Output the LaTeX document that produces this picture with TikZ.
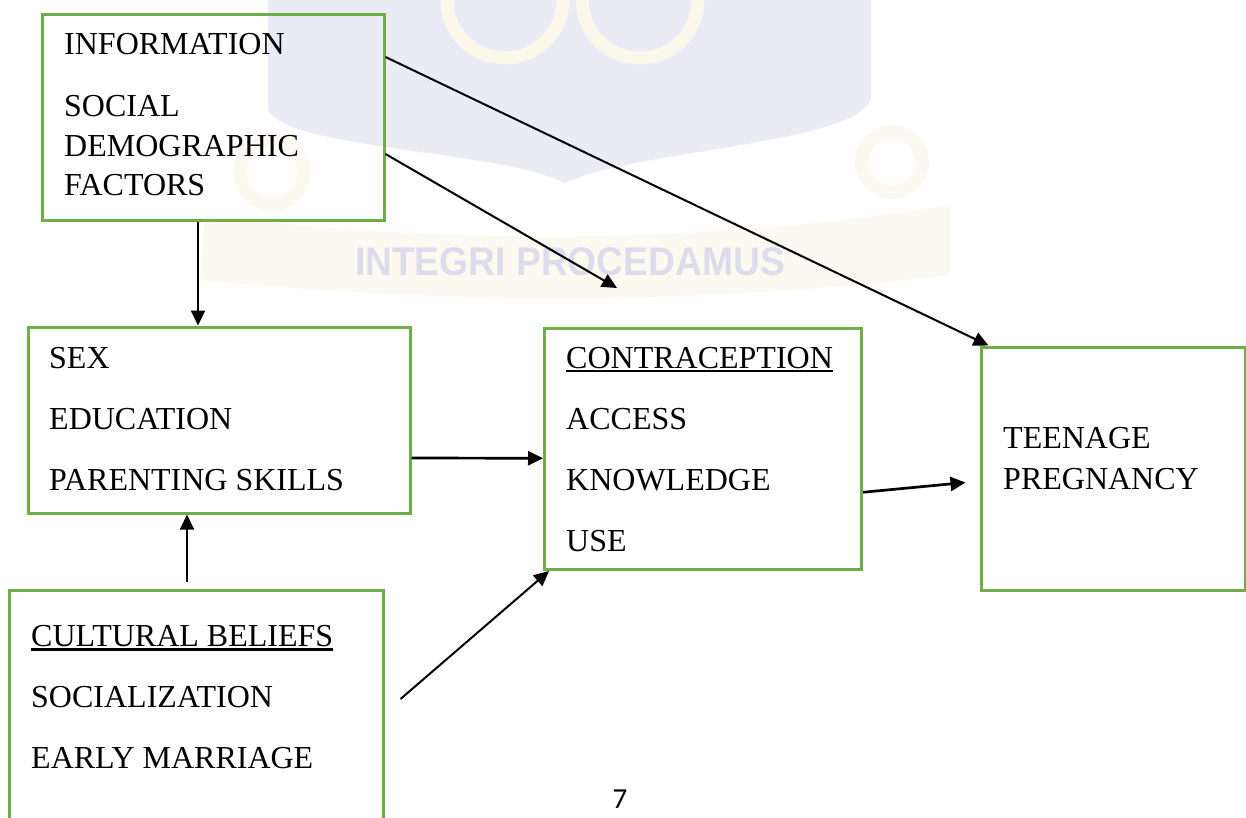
\documentclass[tikz,border=0pt]{standalone}
\usepackage{fontspec}
\setmainfont{Liberation Serif}
\newfontfamily\pagefont{Carlito}
\newfontfamily\crestfont{Liberation Sans}
\usetikzlibrary{arrows.meta}
\definecolor{boxgreen}{RGB}{112,173,71}
\definecolor{crestblue}{RGB}{235,235,245}
\definecolor{crestgold}{RGB}{252,250,240}
\definecolor{crestring}{RGB}{251,248,233}
\definecolor{cresttext}{RGB}{220,220,237}

\begin{document}
\begin{tikzpicture}[x=1pt, y=-1pt,
    box/.style = {draw=boxgreen, line width=3pt},
    item/.style = {anchor=base west, inner sep=0pt, font=\fontsize{32}{38}\selectfont},
    arr/.style = {-{Triangle[length=15pt, width=14pt]}, line width=2pt}]
  \useasboundingbox (0,0) rectangle (1246,817);

  % faint crest in the background
  \fill[crestgold] (205,215) .. controls (450,245) and (700,245) .. (950,205)
    -- (950,275) .. controls (700,305) and (450,305) .. (200,280) -- cycle;
  \draw[crestgold, line width=14pt] (272,172) circle[radius=32];
  \draw[crestgold, line width=14pt] (892,162) circle[radius=30];
  \fill[crestblue] (268,0) -- (268,110) .. controls (290,150) and (500,150) .. (565,183)
    .. controls (632,150) and (850,145) .. (871,100) -- (871,0) -- cycle;
  \draw[crestring, line width=13pt] (505,0) circle[radius=58];
  \draw[crestring, line width=13pt] (640,0) circle[radius=58];
  \node[text=cresttext, font=\crestfont\bfseries\fontsize{40}{40}\selectfont, xscale=0.93,
    inner sep=0pt] (motto) at (570,262) {INTEGRI PROCEDAMUS};

  % boxes
  \node[box, minimum width=342, minimum height=206] (info) at (213,117) {};
  \node[box, minimum width=382, minimum height=186] (sex) at (219,420) {};
  \node[box, minimum width=317, minimum height=241.5] (contra) at (703,448.75) {};
  \node[box, minimum width=264, minimum height=243] (teen) at (1113,468.5) {};
  \node[box, minimum width=374, minimum height=250] (culture) at (196,715) {};

  \node[item] (i1) at (64,54) {INFORMATION};
  \node[item] (i2) at (64,116) {SOCIAL};
  \node[item] (i3) at (64,156) {DEMOGRAPHIC};
  \node[item] (i4) at (64,195) {FACTORS};

  \node[item] (s1) at (49,368) {SEX};
  \node[item] (s2) at (49,429) {EDUCATION};
  \node[item] (s3) at (49,490) {PARENTING SKILLS};

  \node[item] (c1) at (566,368) {CONTRACEPTION};
  \node[item] (c2) at (566,429) {ACCESS};
  \node[item] (c3) at (566,490) {KNOWLEDGE};
  \node[item] (c4) at (566,551) {USE};

  \node[item] (t1) at (1003,448) {TEENAGE};
  \node[item] (t2) at (1003,489) {PREGNANCY};

  \node[item] (b1) at (31,646) {CULTURAL BELIEFS};
  \node[item] (b2) at (31,707) {SOCIALIZATION};
  \node[item] (b3) at (31,768) {EARLY MARRIAGE};

  \draw[line width=2.6pt] ([yshift=-3pt]c1.base west) -- ([yshift=-3pt]c1.base east);
  \draw[line width=2.6pt] ([yshift=-3.5pt]b1.base west) -- ([yshift=-3.5pt]b1.base east);

  \node[anchor=base, inner sep=0pt, font=\pagefont\fontsize{29}{30}\selectfont] (pg) at (620,808) {7};

  % arrows
  \coordinate (loose) at (617,288);
  \draw[arr] ([xshift=-15pt]info.south) -- ([xshift=-21pt]sex.north);
  \draw[arr] ([yshift=60pt]info.east) -- ([xshift=9pt]teen.north west);
  \draw[arr] ([yshift=-37pt]info.east) -- (loose);
  \draw[arr, line width=2.7pt] ([yshift=-38pt]sex.east) -- ([yshift=-9.5pt]contra.west);
  \draw[arr, line width=2.7pt] ([yshift=-43.5pt]contra.east) -- ([xshift=-14pt,yshift=-14pt]teen.west);
  \draw[arr] ([xshift=-9pt,yshift=7pt]culture.north) -- ([xshift=-32pt]sex.south);
  \draw[arr] ([xshift=16pt,yshift=16pt]culture.east) -- ([xshift=6pt]contra.south west);
\end{tikzpicture}
\end{document}
